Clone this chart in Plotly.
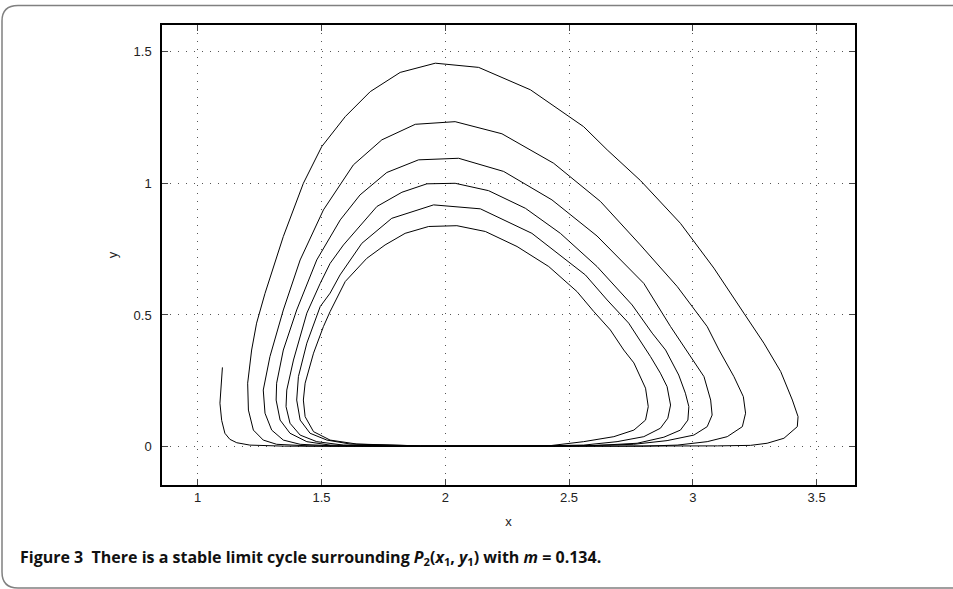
import plotly.graph_objects as go

# ---- data: one trajectory, split into pieces ----
# tail (start) and bottom run to the first right-hand turn
tail_x = [1.100, 1.093, 1.090, 1.097, 1.110, 1.130, 1.158, 1.211, 1.35, 1.8, 2.4, 2.9, 3.1, 3.233, 3.30]
tail_y = [0.301, 0.220, 0.165, 0.100, 0.051, 0.028, 0.015, 0.006, 0.002, 0.001, 0.001, 0.002, 0.003, 0.005, 0.013]

loopA_x = [3.368, 3.422, 3.425, 3.402, 3.355, 3.287, 3.206, 3.085, 2.950, 2.789, 2.654, 2.559, 2.344,
           2.135, 1.960, 1.818, 1.697, 1.596, 1.501, 1.427, 1.346, 1.272, 1.238, 1.218, 1.202, 1.205,
           1.225, 1.265, 1.319, 1.45, 1.9, 2.5, 2.8]
loopA_y = [0.032, 0.076, 0.114, 0.177, 0.285, 0.393, 0.507, 0.678, 0.848, 1.010, 1.127, 1.215, 1.355,
           1.440, 1.456, 1.421, 1.348, 1.253, 1.139, 1.000, 0.798, 0.582, 0.469, 0.367, 0.241, 0.139,
           0.063, 0.025, 0.009, 0.003, 0.001, 0.001, 0.002]

loopB_x = [2.937, 3.058, 3.139, 3.200, 3.213, 3.204, 3.166, 3.106, 3.058, 2.937, 2.788, 2.627, 2.438,
           2.229, 2.040, 1.879, 1.744, 1.629, 1.508, 1.414, 1.346, 1.292, 1.265, 1.272, 1.299, 1.346,
           1.414, 1.55, 2.0, 2.5]
loopB_y = [0.006, 0.019, 0.038, 0.076, 0.127, 0.190, 0.266, 0.367, 0.456, 0.608, 0.766, 0.931, 1.076,
           1.188, 1.234, 1.224, 1.165, 1.070, 0.899, 0.709, 0.519, 0.342, 0.215, 0.127, 0.063, 0.025,
           0.009, 0.003, 0.001, 0.002]

loopC_x = [2.761, 2.896, 3.004, 3.058, 3.078, 3.072, 3.045, 2.991, 2.910, 2.802, 2.613, 2.431, 2.236,
           2.054, 1.892, 1.764, 1.656, 1.576, 1.481, 1.400, 1.346, 1.319, 1.317, 1.333, 1.373, 1.441,
           1.535, 1.8, 2.3, 2.6]
loopC_y = [0.009, 0.023, 0.044, 0.076, 0.120, 0.177, 0.266, 0.342, 0.456, 0.620, 0.800, 0.937, 1.045,
           1.095, 1.089, 1.041, 0.956, 0.861, 0.709, 0.519, 0.367, 0.241, 0.177, 0.101, 0.051, 0.019,
           0.006, 0.002, 0.002, 0.004]

loopD_x = [2.775, 2.883, 2.950, 2.980, 2.984, 2.970, 2.943, 2.890, 2.836, 2.755, 2.613, 2.465, 2.324,
           2.175, 2.040, 1.926, 1.825, 1.724, 1.589, 1.535, 1.495, 1.441, 1.387, 1.360, 1.357, 1.373,
           1.414, 1.481, 1.589, 1.9, 2.3, 2.5]
loopD_y = [0.013, 0.036, 0.063, 0.101, 0.152, 0.203, 0.272, 0.367, 0.431, 0.538, 0.684, 0.810, 0.905,
           0.972, 1.000, 0.998, 0.966, 0.912, 0.766, 0.696, 0.620, 0.507, 0.329, 0.215, 0.152, 0.089,
           0.044, 0.019, 0.006, 0.002, 0.002, 0.004]

loopE_x = [2.559, 2.694, 2.802, 2.869, 2.899, 2.910, 2.896, 2.869, 2.829, 2.741, 2.654, 2.566, 2.505,
           2.350, 2.142, 1.953, 1.784, 1.663, 1.575, 1.535, 1.495, 1.441, 1.407, 1.400, 1.414, 1.454,
           1.522, 1.616, 1.9, 2.2, 2.425]
loopE_y = [0.006, 0.019, 0.038, 0.070, 0.108, 0.158, 0.228, 0.279, 0.342, 0.469, 0.557, 0.652, 0.696,
           0.810, 0.903, 0.918, 0.867, 0.772, 0.652, 0.583, 0.532, 0.393, 0.266, 0.177, 0.101, 0.051,
           0.025, 0.010, 0.003, 0.002, 0.004]

loopF_x = [2.559, 2.681, 2.762, 2.809, 2.820, 2.809, 2.762, 2.721, 2.667, 2.600, 2.532, 2.418, 2.290,
           2.162, 2.047, 1.933, 1.838, 1.757, 1.683, 1.596, 1.535, 1.508, 1.468, 1.434, 1.427, 1.434,
           1.468, 1.535, 1.643, 1.9, 2.2]
loopF_y = [0.019, 0.038, 0.063, 0.101, 0.152, 0.222, 0.318, 0.367, 0.443, 0.513, 0.589, 0.684, 0.760,
           0.817, 0.839, 0.836, 0.810, 0.766, 0.715, 0.627, 0.513, 0.456, 0.355, 0.241, 0.177, 0.114,
           0.057, 0.025, 0.010, 0.003, 0.002]

x_ticks = [1, 1.5, 2, 2.5, 3, 3.5]
x_tick_labels = ["1", "1.5", "2", "2.5", "3", "3.5"]
y_ticks = [0, 0.5, 1, 1.5]
y_tick_labels = ["0", "0.5", "1", "1.5"]

xs = tail_x + loopA_x + loopB_x + loopC_x + loopD_x + loopE_x + loopF_x
ys = tail_y + loopA_y + loopB_y + loopC_y + loopD_y + loopE_y + loopF_y

W, H = 953, 589
L, R, T, B = 162, 98, 25, 104
pw, ph = W - L - R, H - T - B

def px(x):
    return (x - L) / pw

def py(y):
    return (H - B - y) / ph

fig = go.Figure()
fig.add_trace(go.Scatter(x=xs, y=ys, mode="lines",
                         line=dict(color="black", width=1), showlegend=False,
                         hoverinfo="skip"))

tick_font = dict(family="Liberation Sans, Arial, sans-serif", size=13, color="#222")
axis_common = dict(showline=True, mirror="ticks", linecolor="black", linewidth=1.5,
                   ticks="inside", ticklen=6, tickcolor="#444", tickwidth=1,
                   showgrid=True, gridcolor="#555", gridwidth=1, griddash="1px,7px",
                   zeroline=False, tickfont=tick_font)

fig.update_xaxes(range=[0.856, 3.655], tickvals=x_ticks, ticktext=x_tick_labels,
                 ticklabelstandoff=0,
                 title=dict(text="x", font=tick_font, standoff=13), **axis_common)
fig.update_yaxes(range=[-0.1455, 1.601], tickvals=y_ticks, ticktext=y_tick_labels,
                 ticklabelstandoff=6,
                 title=dict(text="y", font=tick_font, standoff=13), **axis_common)

# rounded outer frame of the figure panel
frame_path = (f"M {px(W + 10)},{py(5.5)} L {px(18)},{py(5.5)} "
              f"Q {px(2)},{py(5.5)} {px(2)},{py(21)} "
              f"L {px(2)},{py(572)} Q {px(2)},{py(588)} {px(18)},{py(588)} "
              f"L {px(W + 10)},{py(588)}")
fig.add_shape(type="path", path=frame_path, xref="paper", yref="paper",
              line=dict(color="#808080", width=1.5), layer="above")

caption = ("<b>Figure 3  There is a stable limit cycle surrounding "
           "<i>P</i><sub>2</sub>(<i>x</i><sub>1</sub>, <i>y</i><sub>1</sub>) "
           "with <i>m</i> = 0.134.</b>")
fig.add_annotation(text=caption, x=px(18), y=py(557), xref="paper", yref="paper",
                   xanchor="left", yanchor="middle", showarrow=False,
                   font=dict(family="Open Sans, Noto Sans, sans-serif", size=16, color="#111"))

fig.update_layout(width=W, height=H, margin=dict(l=L, r=R, t=T, b=B),
                  paper_bgcolor="white", plot_bgcolor="white")

fig.write_html("out.html", config={"displayModeBar": False},
               post_script="document.body.style.margin='0';document.body.style.overflow='hidden';")
